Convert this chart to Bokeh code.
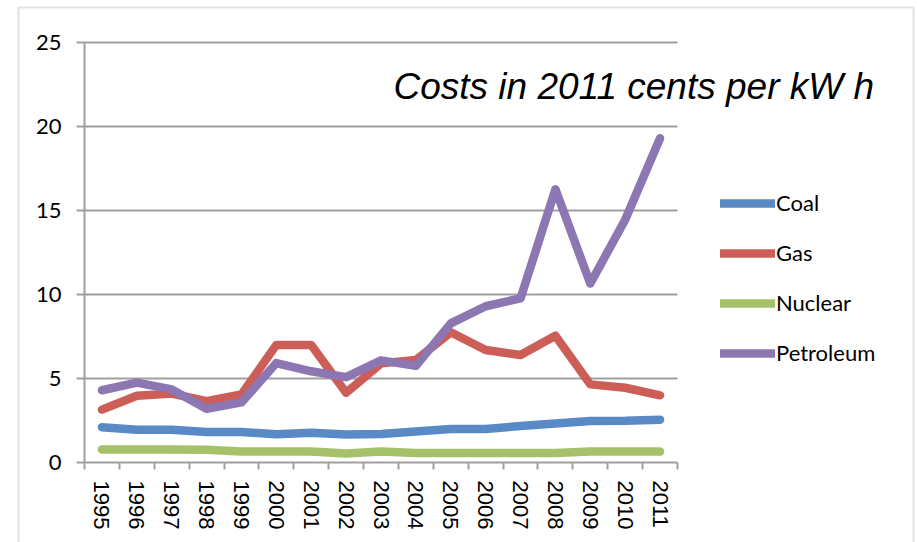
from bokeh.plotting import figure
from bokeh.models import (Range1d, FixedTicker, Legend, LegendItem, Label, BoxAnnotation)
from bokeh.embed import file_html
from bokeh.resources import INLINE

years = ["1995", "1996", "1997", "1998", "1999", "2000", "2001", "2002", "2003",
         "2004", "2005", "2006", "2007", "2008", "2009", "2010", "2011"]
coal = [2.10, 1.95, 1.95, 1.82, 1.82, 1.68, 1.77, 1.67, 1.70, 1.85, 2.00, 2.00, 2.17, 2.32, 2.47, 2.48, 2.55]
gas = [3.15, 3.97, 4.10, 3.65, 4.05, 7.00, 7.00, 4.15, 5.90, 6.10, 7.75, 6.70, 6.40, 7.55, 4.65, 4.45, 4.00]
nuclear = [0.78, 0.78, 0.78, 0.76, 0.66, 0.66, 0.66, 0.53, 0.66, 0.57, 0.57, 0.56, 0.56, 0.56, 0.66, 0.66, 0.66]
petroleum = [4.30, 4.75, 4.35, 3.20, 3.58, 5.92, 5.43, 5.08, 6.08, 5.75, 8.28, 9.30, 9.77, 16.26, 10.65, 14.45, 19.30]
y_ticks = [0, 5, 10, 15, 20, 25]
title_text = "Costs in 2011 cents per kW h"

series = [("Coal", coal, "#5a8ac6"), ("Gas", gas, "#cc5e57"),
          ("Nuclear", nuclear, "#a5c26a"), ("Petroleum", petroleum, "#8c77b3")]

GRAY = "#a0a0a0"

# canvas layout (pixels)
W, H = 917, 542
AX_L, AX_R = 84, 677      # plot area left/right
AX_T, AX_B = 42, 462      # plot area top/bottom
n = len(years)
ymax = y_ticks[-1]
sx = (AX_R - AX_L) / n
sy = (AX_B - AX_T) / ymax
x_range = Range1d(-AX_L / sx, n + (W - AX_R) / sx)
y_range = Range1d(-(H - AX_B) / sy, ymax + AX_T / sy)

xs = [i + 0.5 for i in range(n)]

p = figure(width=W, height=H, output_backend="svg", toolbar_location=None,
           x_range=x_range, y_range=y_range,
           min_border=0, min_border_left=0, min_border_right=0,
           min_border_top=0, min_border_bottom=0)
p.outline_line_color = None
p.background_fill_color = "white"
p.border_fill_color = "white"
p.xgrid.grid_line_color = None
p.ygrid.grid_line_color = None

# outer chart border
frame_box = BoxAnnotation(left=18, right=913, top=7, bottom=H + 40,
                          left_units="canvas", right_units="canvas",
                          top_units="canvas", bottom_units="canvas",
                          fill_alpha=0, fill_color=None, line_color=GRAY, line_width=2)
p.add_layout(frame_box)

# horizontal gridlines
p.segment(x0=[0] * (len(y_ticks) - 1), x1=[n] * (len(y_ticks) - 1),
          y0=y_ticks[1:], y1=y_ticks[1:], line_color=GRAY, line_width=2)

ya = p.yaxis[0]
ya.fixed_location = 0
ya.bounds = (0, ymax)
ya.ticker = FixedTicker(ticks=y_ticks)
ya.axis_line_color = GRAY
ya.axis_line_width = 2
ya.major_tick_line_color = GRAY
ya.major_tick_line_width = 2
ya.major_tick_out = 8
ya.major_tick_in = 0
ya.minor_tick_line_color = None
ya.major_label_text_font = "Lato"
ya.major_label_text_font_size = "22px"
ya.major_label_text_color = "black"
ya.major_label_standoff = 15

xa = p.xaxis[0]
xa.fixed_location = 0
xa.bounds = (0, n)
xa.ticker = FixedTicker(ticks=xs, minor_ticks=list(range(n + 1)))
xa.major_label_overrides = {x: y for x, y in zip(xs, years)}
xa.axis_line_color = GRAY
xa.axis_line_width = 2
xa.major_tick_line_color = None
xa.major_tick_out = 0
xa.major_tick_in = 0
xa.minor_tick_line_color = GRAY
xa.minor_tick_line_width = 2
xa.minor_tick_out = 7
xa.minor_tick_in = 0
xa.major_label_orientation = "vertical"
xa.major_label_text_font = "Liberation Sans"
xa.major_label_text_font_size = "22px"
xa.major_label_text_color = "black"
xa.major_label_standoff = 11

items = []
for name, vals, color in series:
    r = p.line(xs, vals, line_color=color, line_width=8.5, line_cap="round", line_join="round")
    items.append(LegendItem(label=name, renderers=[r]))

legend = Legend(items=items, location=(720, 176), orientation="vertical",
                glyph_width=55, glyph_height=24, label_height=24, spacing=23,
                padding=0, margin=0, label_standoff=1,
                label_text_font="Lato", label_text_font_size="22px", label_text_color="black",
                border_line_color=None, background_fill_alpha=0)
p.add_layout(legend, "center")

title = Label(x=(393 - AX_L) / sx, y=(AX_B - 86) / sy, text=title_text,
              text_font="Liberation Sans", text_font_style="italic",
              text_font_size="37px", text_color="black",
              text_baseline="alphabetic", text_align="left")
p.add_layout(title)

open("out.html", "w").write(file_html(p, INLINE))
